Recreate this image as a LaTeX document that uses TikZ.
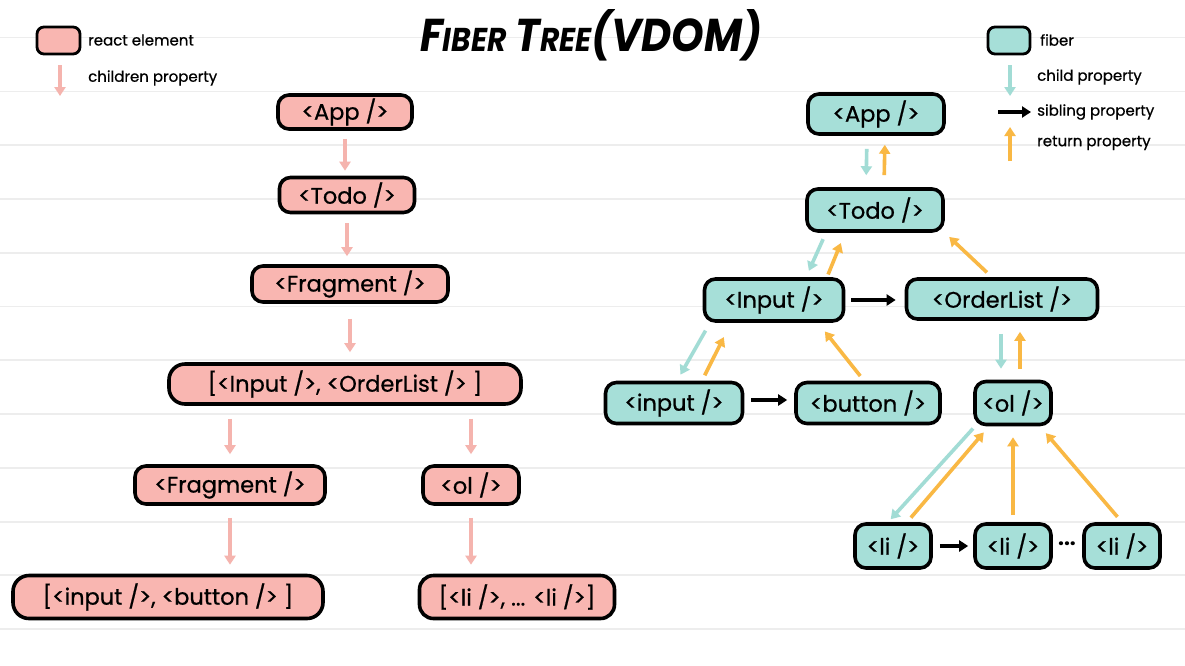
\documentclass[tikz,border=0pt]{standalone}
\usepackage{fontspec}
\setmainfont{Poppins}
\newfontfamily\lblfont{Poppins}[FakeBold=0.7]
\usetikzlibrary{arrows.meta,calc}
\definecolor{pinkfill}{HTML}{F9B6B1}
\definecolor{tealfill}{HTML}{A6DFD8}
\definecolor{orangearr}{HTML}{F9B844}
\definecolor{pinkarr}{HTML}{F5B4AE}
\definecolor{tealarr}{HTML}{A2DCD5}
\definecolor{gridline}{HTML}{EDEDED}
\tikzset{
  elem/.style={draw=black, line width=3.6pt, rounded corners=11pt, fill=pinkfill, inner sep=0pt,
    font=\lblfont\fontsize{22.5}{26}\selectfont},
  fib/.style={draw=black, line width=3.6pt, rounded corners=11pt, fill=tealfill, inner sep=0pt,
    font=\lblfont\fontsize{22.5}{26}\selectfont},
  arr/.style={line width=3.6pt, -{Triangle[length=9pt,width=11pt]}},
  kidarr/.style={arr, draw=pinkarr},
  childarr/.style={arr, draw=tealarr},
  retarr/.style={arr, draw=orangearr},
  sibarr/.style={arr, draw=black},
  legtext/.style={anchor=west, inner sep=0pt, font=\lblfont\fontsize{15}{17}\selectfont},
}
\begin{document}
\begin{tikzpicture}[x=1pt,y=-1pt]
\useasboundingbox (0,0) rectangle (1185,665);
\fill[white] (0,0) rectangle (1185,665);
% background ruled lines
\foreach \yy in {37.5,91.3,145,199,253,306.5,360,414,468,522,575,629}
  \draw[gridline, line width=1.5pt] (0,\yy) -- (1185,\yy);

% title
\node[inner sep=0pt, font=\bfseries\itshape] (title) at (591,35)
  {\scalebox{0.9}[1]{{\fontsize{46}{46}\selectfont F}{\fontsize{33}{33}\selectfont IBER}\hspace{10pt}{\fontsize{46}{46}\selectfont T}{\fontsize{33}{33}\selectfont REE}{\fontsize{46}{46}\selectfont(VDOM)}}};

% legend left
\node[elem, minimum width=43pt, minimum height=27pt, rounded corners=7pt, line width=2.8pt] (legElem) at (58.5,40.5) {};
\node[legtext] (legElemT) at (88,40) {react element};
\coordinate (legKidA) at (60,65);
\coordinate (legKidB) at (60,96);
\draw[kidarr] (legKidA) -- (legKidB);
\node[legtext] (legKidT) at (88,78) {children property};

% legend right
\node[fib, minimum width=42pt, minimum height=27pt, rounded corners=7pt, line width=2.8pt] (legFib) at (1009,40.5) {};
\node[legtext] (legFibT) at (1040,40) {fiber};
\coordinate (legChA) at (1010,65);
\coordinate (legChB) at (1010,96);
\draw[childarr] (legChA) -- (legChB);
\node[legtext] (legChT) at (1037,77) {child property};
\coordinate (legSibA) at (998,112);
\coordinate (legSibB) at (1031,112);
\draw[sibarr] (legSibA) -- (legSibB);
\node[legtext] (legSibT) at (1037,112) {sibling property};
\coordinate (legRetA) at (1010,161);
\coordinate (legRetB) at (1010,127);
\draw[retarr] (legRetA) -- (legRetB);
\node[legtext] (legRetT) at (1037,143) {return property};

% left tree: react elements
\node[elem, minimum width=134pt, minimum height=34pt] (appL) at (345,112) {<App />};
\node[elem, minimum width=135pt, minimum height=35pt] (todoL) at (347,195) {<Todo />};
\node[elem, minimum width=196pt, minimum height=36pt] (fragL) at (350,284) {<Fragment />};
\node[elem, minimum width=352pt, minimum height=40pt, rounded corners=16pt] (listL) at (345,384) {[<Input />, <OrderList /> ]};
\node[elem, minimum width=190pt, minimum height=38pt] (fragTwoL) at (230,485) {<Fragment />};
\node[elem, minimum width=96pt, minimum height=38pt] (olL) at (471,485) {<ol />};
\node[elem, minimum width=310pt, minimum height=43pt, rounded corners=16pt] (inbtnL) at (168,597) {[<input />, <button /> ]};
\node[elem, minimum width=195pt, minimum height=43pt, rounded corners=14pt] (liL) at (517,597) {[<li />, ... <li />]};

\draw[kidarr, shorten <=8pt, shorten >=5pt] (appL.south) -- (appL.south |- todoL.north);
\draw[kidarr, shorten <=9pt, shorten >=8pt] (todoL.south) -- (todoL.south |- fragL.north);
\draw[kidarr, shorten <=15pt, shorten >=10pt] (fragL.south) -- (fragL.south |- listL.north);
\draw[kidarr, shorten <=13pt, shorten >=10pt] (fragTwoL.north |- listL.south) -- (fragTwoL.north);
\draw[kidarr, shorten <=13pt, shorten >=10pt] (olL.north |- listL.south) -- (olL.north);
\draw[kidarr, shorten <=12pt, shorten >=9pt] (fragTwoL.south) -- (fragTwoL.south |- inbtnL.north);
\draw[kidarr, shorten <=12pt, shorten >=9pt] (olL.south) -- (olL.south |- liL.north);

% right tree: fibers
\node[fib, minimum width=136pt, minimum height=40pt] (appR) at (876,114) {<App />};
\node[fib, minimum width=136pt, minimum height=42pt] (todoR) at (875,210) {<Todo />};
\node[fib, minimum width=139pt, minimum height=42pt] (inputR) at (774,300) {<Input />};
\node[fib, minimum width=191pt, minimum height=40pt] (olistR) at (1002,299) {<OrderList />};
\node[fib, minimum width=137pt, minimum height=41pt] (inR) at (674,403) {<input />};
\node[fib, minimum width=144pt, minimum height=41pt] (btnR) at (868,403) {<button />};
\node[fib, minimum width=76pt, minimum height=43pt] (olR) at (1013,403) {<ol />};
\node[fib, minimum width=76pt, minimum height=44pt] (liA) at (893,546) {<li />};
\node[fib, minimum width=76pt, minimum height=44pt] (liB) at (1013,546) {<li />};
\node[fib, minimum width=76pt, minimum height=44pt] (liC) at (1122,546) {<li />};
\node[inner sep=0pt, font=\fontsize{21}{24}\selectfont\bfseries] (dots) at (1067,544) {...};

% App <-> Todo
\draw[childarr, shorten <=13pt, shorten >=12pt] ([xshift=-9pt]appR.south) -- ([xshift=-9pt]todoR.north);
\draw[retarr, shorten <=12pt, shorten >=9pt] ([xshift=9pt]todoR.north) -- ([xshift=9pt]appR.south);
% Todo <-> Input
\draw[childarr, shorten <=7pt, shorten >=7pt] ([xshift=-49pt]todoR.south) -- ([xshift=32pt]inputR.north);
\draw[retarr, shorten <=3pt, shorten >=11pt] ([xshift=53pt]inputR.north) -- ([xshift=-30pt]todoR.south);
% OrderList -> Todo
\draw[retarr, shorten <=7pt, shorten >=6pt] ([xshift=-10pt]olistR.north) -- (todoR.south east);
% Input -> OrderList sibling
\draw[sibarr, shorten <=6pt, shorten >=9pt] (inputR.east) -- (inputR.east -| olistR.west);
% Input <-> input
\draw[childarr, shorten <=9pt, shorten >=7pt] ([xshift=-64pt]inputR.south) -- ([xshift=3pt]inR.north);
\draw[retarr, shorten <=6pt, shorten >=16pt] ([xshift=28pt]inR.north) -- ([xshift=-43pt]inputR.south);
% button -> Input
\draw[retarr, shorten <=6pt, shorten >=11pt] ([xshift=-4pt]btnR.north) -- ([xshift=44pt]inputR.south);
% input -> button
\draw[sibarr, shorten <=7pt, shorten >=7pt] ([yshift=3pt]inR.east) -- ([yshift=3pt]btnR.west);
% OrderList <-> ol
\draw[childarr, shorten <=13pt, shorten >=11pt] ([xshift=-1pt]olistR.south) -- ([xshift=-12pt]olR.north);
\draw[retarr, shorten <=11pt, shorten >=11pt] ([xshift=7pt]olR.north) -- ([xshift=18pt]olistR.south);
% ol <-> li
\draw[childarr, shorten <=3pt, shorten >=4pt] ([xshift=-38pt]olR.south) -- ([xshift=-5pt]liA.north);
\draw[retarr, shorten <=6pt, shorten >=8pt] ([xshift=14pt]liA.north) -- ([xshift=-24pt]olR.south);
\draw[retarr, shorten <=7pt, shorten >=11pt] (liB.north) -- (liB.north |- olR.south);
\draw[retarr, shorten <=7pt, shorten >=9pt] (liC.north) -- ([xshift=27pt]olR.south);
% li -> li sibling
\draw[sibarr, shorten <=7pt, shorten >=5pt] (liA.east) -- (liB.west);
\end{tikzpicture}
\end{document}
